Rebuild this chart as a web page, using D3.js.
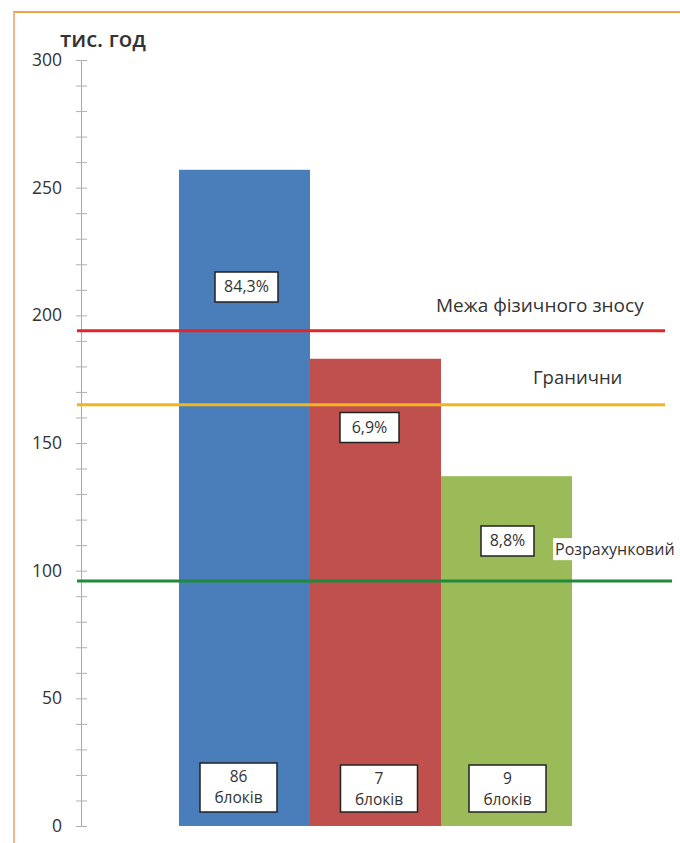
<!DOCTYPE html>
<html>
<head>
<meta charset="utf-8">
<script src="https://cdn.jsdelivr.net/npm/d3@7"></script>
<style>
  html, body { margin: 0; padding: 0; background: #fff; }
  svg { display: block; }
  text { font-family: "Open Sans", "Noto Sans", sans-serif; fill: #333; }
</style>
</head>
<body>
<svg id="chart" width="680" height="843"></svg>
<script>
// Service life of power units, thousand hours
const categories = ["group1", "group2", "group3"];
const lifeValues = [257, 183, 137];
const shares = ["84,3%", "6,9%", "8,8%"];
const unitCounts = ["86", "7", "9"];
const unitWord = "блоків";
const barColors = ["#4a7ebb", "#c0504d", "#9bbb59"];

const limitLabels = ["Межа фізичного зносу", "Гранични", "Розрахунковий"];
const limitValues = [194, 165, 96];
const limitColors = ["#e0242a", "#f2b51c", "#208a3c"];

const yTicksMajor = [0, 50, 100, 150, 200, 250, 300];
const yTicksMinor = d3.range(0, 301, 10);
const yUnit = "тис. год";

const svg = d3.select("#chart");
const axisX = 81;
const y = d3.scaleLinear().domain([0, 300]).range([826, 60]);
const x = d3.scaleBand().domain(categories).range([179, 572]).padding(0);

// frame
svg.append("line").attr("x1", 13).attr("x2", 680).attr("y1", 12).attr("y2", 12)
  .attr("stroke", "#f0a44a").attr("stroke-width", 2);
svg.append("line").attr("x1", 14).attr("x2", 14).attr("y1", 12).attr("y2", 843)
  .attr("stroke", "#f4b68c").attr("stroke-width", 2);

// y axis: minor ticks crossing the axis line, labels every 50
const gMinorL = svg.append("g").attr("transform", `translate(${axisX},0)`)
  .call(d3.axisLeft(y).tickValues(yTicksMinor).tickSize(5).tickFormat(""));
const gMinorR = svg.append("g").attr("transform", `translate(${axisX},0)`)
  .call(d3.axisRight(y).tickValues(yTicksMinor).tickSize(6).tickFormat(""));
[gMinorL, gMinorR].forEach(g => {
  g.select(".domain").attr("stroke", "#a8a8a8").attr("stroke-width", 1);
  g.selectAll(".tick line").attr("stroke", "#b0b0b0");
});
const gLab = svg.append("g").attr("transform", `translate(${axisX},0)`)
  .call(d3.axisLeft(y).tickValues(yTicksMajor).tickSize(0).tickPadding(19));
gLab.select(".domain").remove();
gLab.selectAll(".tick text")
  .style("font-family", '"Open Sans", sans-serif')
  .attr("font-size", 17.5).attr("fill", "#333");

svg.append("text").attr("x", 60).attr("y", 47)
  .attr("font-size", 22).attr("font-weight", 600).attr("fill", "#222")
  .text(yUnit);

// bars
svg.append("g").selectAll("rect").data(lifeValues).join("rect")
  .attr("x", (d, i) => x(categories[i]))
  .attr("width", x.bandwidth())
  .attr("y", d => y(d))
  .attr("height", d => y(0) - y(d))
  .attr("fill", (d, i) => barColors[i]);

// limit lines
const lineEnds = [665, 665, 672];
svg.append("g").selectAll("line").data(limitValues).join("line")
  .attr("x1", 77).attr("x2", (d, i) => lineEnds[i])
  .attr("y1", d => y(d)).attr("y2", d => y(d))
  .attr("stroke", (d, i) => limitColors[i]).attr("stroke-width", 3);

// limit labels
const limitLabelPos = [{ x: 436, dy: -24, size: 19 }, { x: 533, dy: -26, size: 18.5 }, { x: 555, dy: -30, size: 16 }];
limitLabels.forEach((t, i) => {
  const p = limitLabelPos[i];
  const txt = svg.append("text").attr("x", p.x).attr("y", y(limitValues[i]) + p.dy)
    .attr("dominant-baseline", "middle").attr("font-size", p.size).attr("fill", "#333").text(t);
  if (i === 2) {
    const bb = txt.node().getBBox();
    svg.insert("rect", () => txt.node())
      .attr("x", bb.x - 2).attr("y", bb.y).attr("width", bb.width + 4).attr("height", bb.height)
      .attr("fill", "#fff");
  }
});

// share boxes inside the bars
const shareBox = [{ dx: 2, cy: 287 }, { dx: -6, cy: 427.5 }, { dx: 1, cy: 541 }];
const shareW = [63, 59, 53];
shares.forEach((s, i) => {
  const cx = x(categories[i]) + x.bandwidth() / 2 + shareBox[i].dx;
  const cy = shareBox[i].cy;
  svg.append("rect").attr("x", cx - shareW[i] / 2).attr("y", cy - 15)
    .attr("width", shareW[i]).attr("height", 30)
    .attr("fill", "#fff").attr("stroke", "#222").attr("stroke-width", 1.5);
  svg.append("text").attr("x", cx).attr("y", cy + 1)
    .attr("text-anchor", "middle").attr("dominant-baseline", "middle")
    .attr("font-size", 16).attr("fill", "#333").text(s);
});

// unit count boxes at the bar bottoms
const countDx = [-6, 3.5, 1];
const countTop = [763, 765, 765];
unitCounts.forEach((c, i) => {
  const cx = x(categories[i]) + x.bandwidth() / 2 + countDx[i];
  svg.append("rect").attr("x", cx - 38.5).attr("y", countTop[i])
    .attr("width", 77).attr("height", 812 - countTop[i])
    .attr("fill", "#fff").attr("stroke", "#222").attr("stroke-width", 1.5);
  const t = svg.append("text").attr("x", cx).attr("text-anchor", "middle")
    .attr("font-size", 15.5).attr("fill", "#444");
  t.append("tspan").attr("x", cx).attr("y", countTop[i] + 19).text(c);
  t.append("tspan").attr("x", cx).attr("y", countTop[i] + 40).text(unitWord);
});
</script>
</body>
</html>
